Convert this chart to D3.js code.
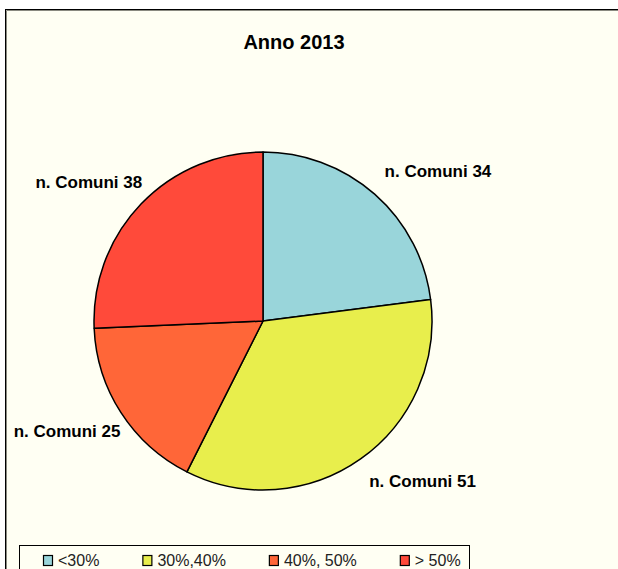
<!DOCTYPE html>
<html>
<head>
  <meta charset="utf-8">
  <title>Anno 2013</title>
  <script src="https://d3js.org/d3.v7.min.js"></script>
  <style>
    body { margin: 0; background: #fff; }
    svg { display: block; }
  </style>
</head>
<body>
<svg id="chart"></svg>
<script>

  // data
  var categories = ["<30%", "30%,40%", "40%, 50%", "> 50%"];
  var comuni = [34, 51, 25, 38];
  var colors = ["#99D5DA", "#E8EE4C", "#FF6638", "#FF4A3A"];
  var title = "Anno 2013";

  var width = 618;
  var height = 569;
  var bg = "#FFFFF3";

  var svg = d3.select("#chart")
    .attr("width", width)
    .attr("height", height);

  // chart area frame (runs off the right/bottom edge like the screenshot)
  svg.append("rect")
    .attr("x", 5.5).attr("y", 9.5)
    .attr("width", 700).attr("height", 700)
    .attr("fill", bg)
    .attr("stroke", "#000")
    .attr("stroke-width", 1);
  svg.append("path")
    .attr("d", "M6.5,700 V10.5 H700")
    .attr("fill", "none")
    .attr("stroke", "#8a8a80")
    .attr("stroke-width", 1);

  svg.append("text")
    .attr("x", 294).attr("y", 49)
    .attr("text-anchor", "middle")
    .style("font-family", "Liberation Sans, Arial, sans-serif")
    .style("font-weight", "bold")
    .style("font-size", "20px")
    .text(title);

  var cx = 263, cy = 321, radius = 169;

  var pie = d3.pie().sort(null).value(d => d);
  var arcs = pie(comuni);

  var arc = d3.arc().innerRadius(0).outerRadius(radius);

  var g = svg.append("g").attr("transform", "translate(" + cx + "," + cy + ")");

  g.selectAll("path.slice")
    .data(arcs).enter()
    .append("path")
    .attr("class", "slice")
    .attr("d", arc)
    .attr("fill", (d, i) => colors[i])
    .attr("stroke", "#000")
    .attr("stroke-width", 1.5)
    .attr("stroke-linejoin", "round");

  // labels sit outside the pie, nearest corner toward the slice middle
  var labelR = 184;
  g.selectAll("text.lbl")
    .data(arcs).enter()
    .append("text")
    .attr("class", "lbl")
    .each(function(d) {
      var a = (d.startAngle + d.endAngle) / 2;
      var sx = Math.sin(a), cy2 = Math.cos(a);
      var x = labelR * sx;
      var y = -labelR * cy2;
      d3.select(this)
        .attr("x", sx >= 0 ? x : x + 12)
        .attr("y", cy2 >= 0 ? y - 6 : y + 16)
        .attr("text-anchor", sx >= 0 ? "start" : "end");
    })
    .style("font-family", "Liberation Sans, Arial, sans-serif")
    .style("font-weight", "bold")
    .style("font-size", "17px")
    .text(d => "n. Comuni " + d.data);

  // legend
  var legend = svg.append("g");
  legend.append("rect")
    .attr("x", 19.5).attr("y", 545.5)
    .attr("width", 450).attr("height", 60)
    .attr("fill", bg)
    .attr("stroke", "#000")
    .attr("stroke-width", 1);

  var lx = 43;
  categories.forEach(function(c, i) {
    legend.append("rect")
      .attr("x", lx + 0.5).attr("y", 555.5)
      .attr("width", 9).attr("height", 10)
      .attr("fill", colors[i])
      .attr("stroke", "#000")
      .attr("stroke-width", 1.2);
    var t = legend.append("text")
      .attr("x", lx + 15).attr("y", 566)
      .style("font-family", "Liberation Sans, Arial, sans-serif")
      .style("font-size", "16px")
      .style("fill", "#222")
      .text(c);
    lx += 15 + t.node().getComputedTextLength() + 43;
  });

</script>
</body>
</html>
